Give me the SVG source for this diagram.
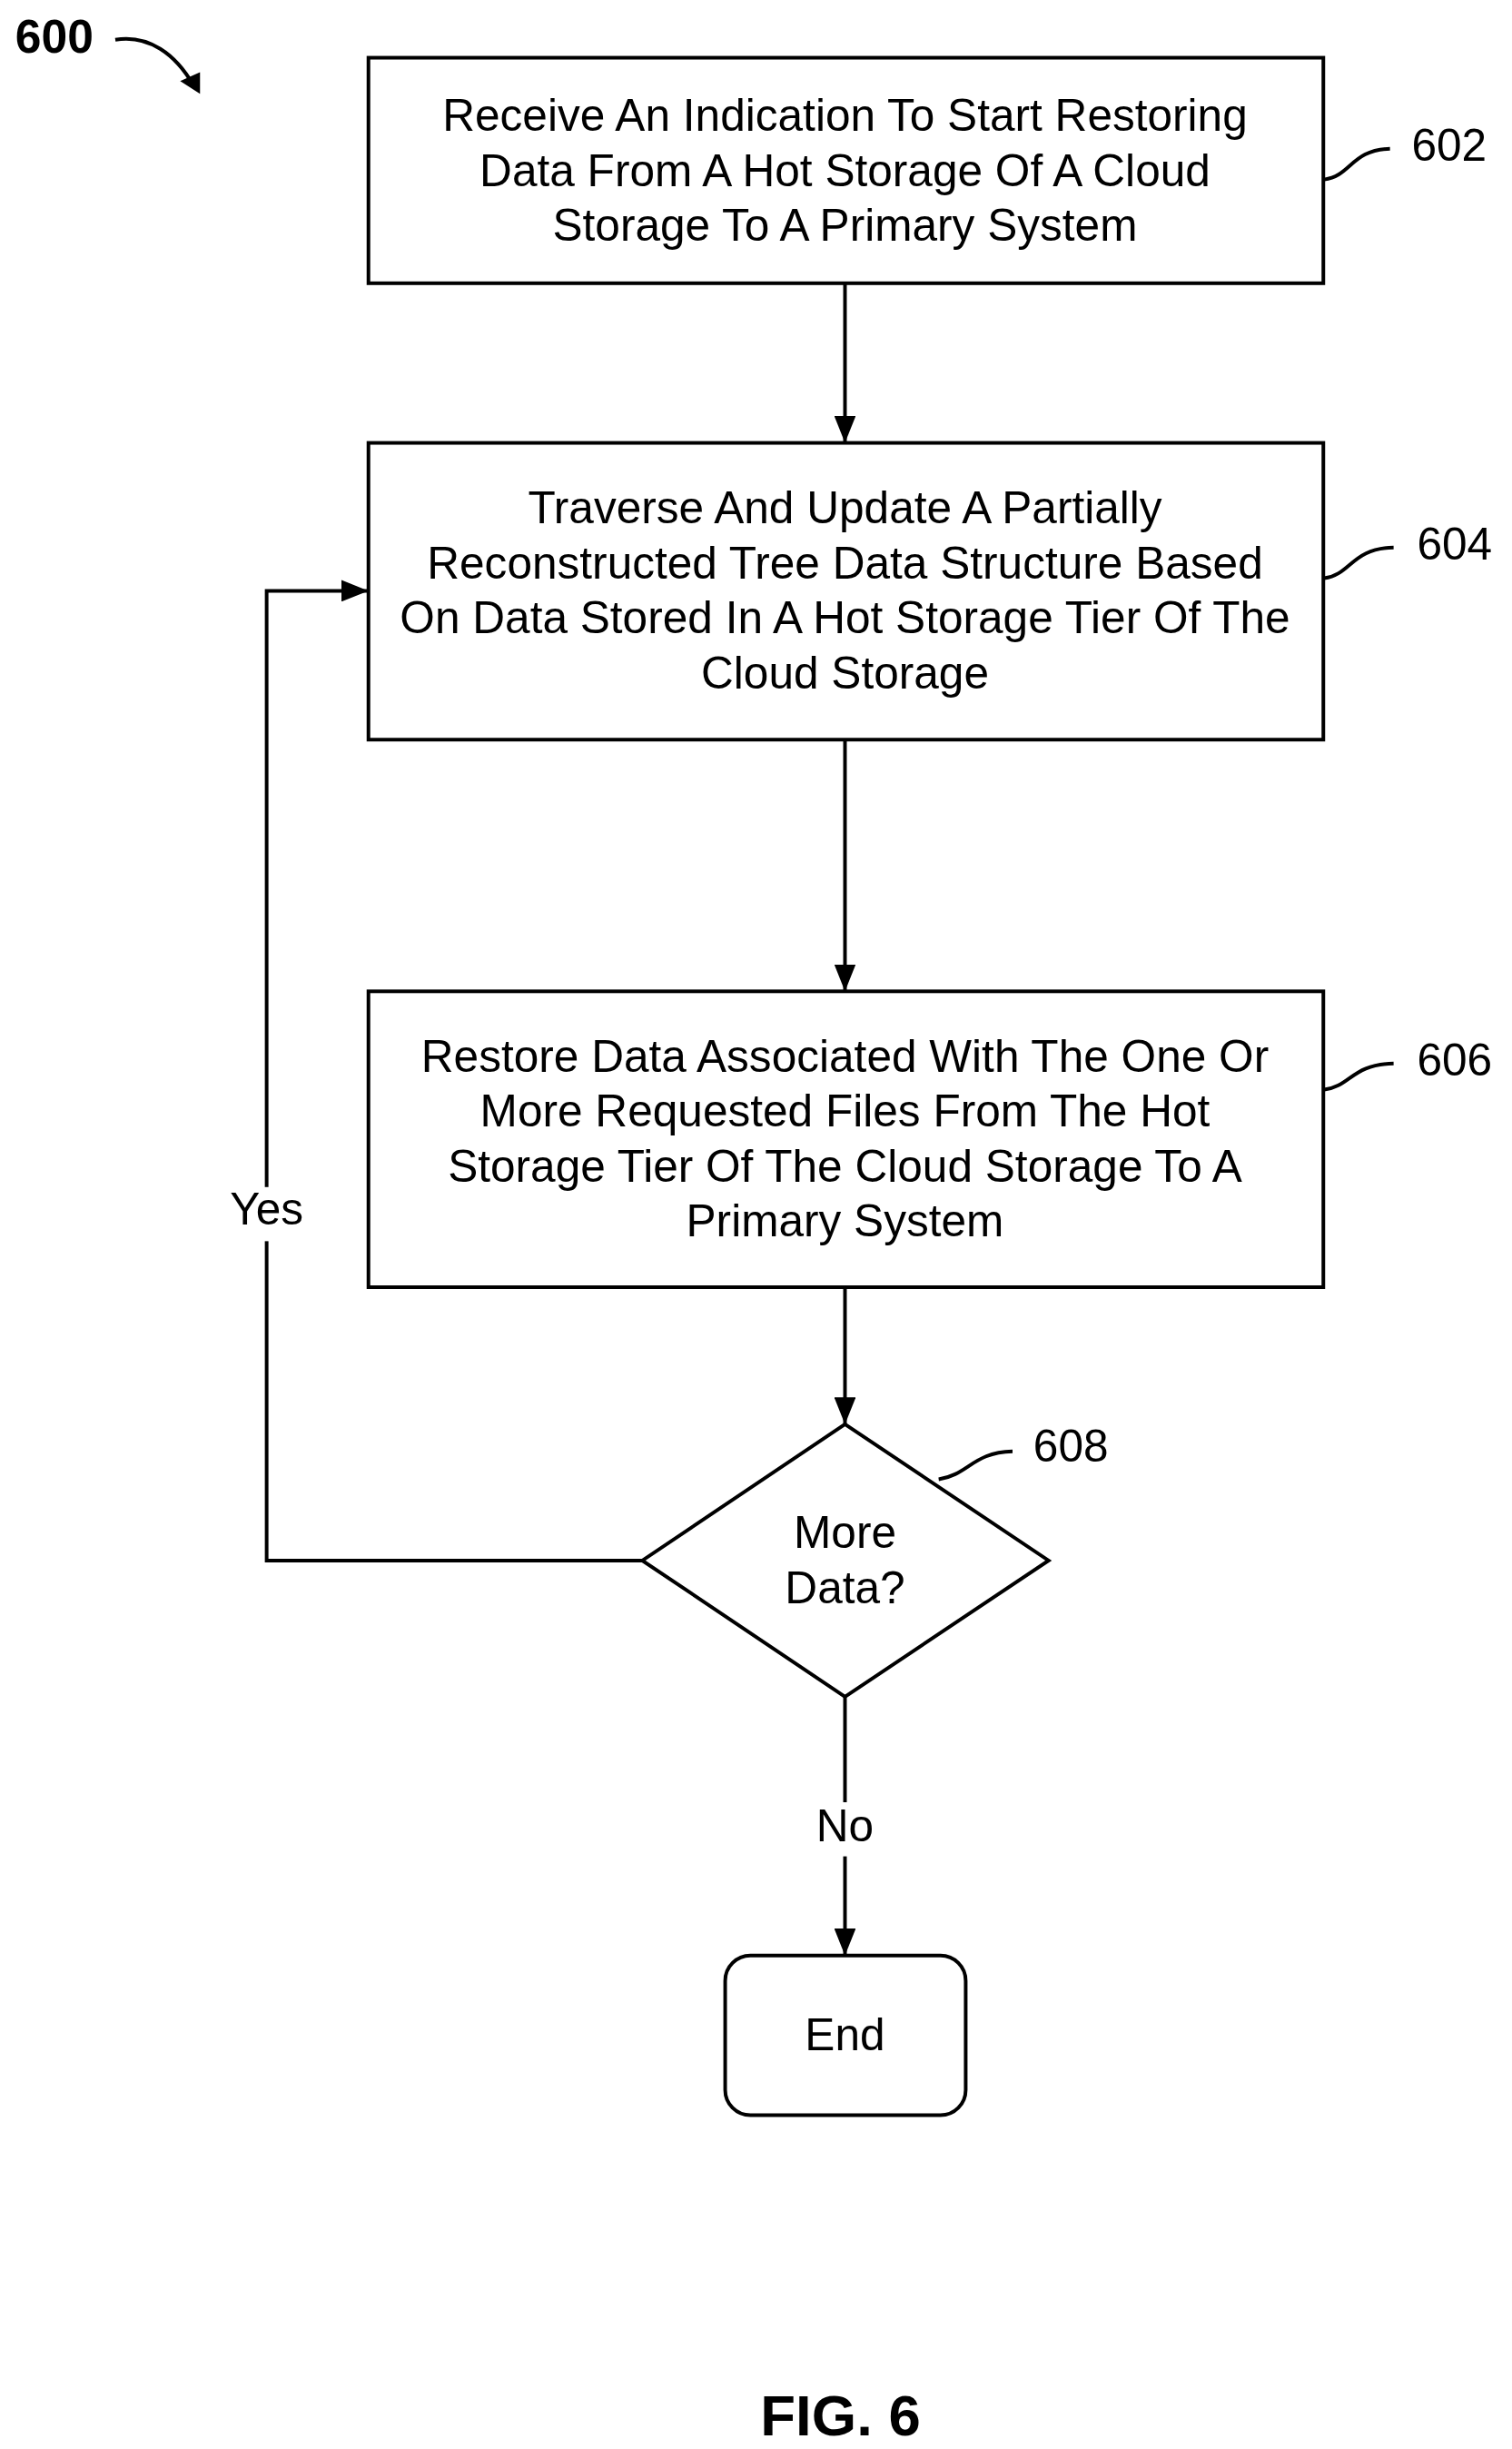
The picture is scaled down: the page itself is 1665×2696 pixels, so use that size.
<svg xmlns="http://www.w3.org/2000/svg" width="1665" height="2696" viewBox="0 0 1665 2696">
<style>
text{font-family:"Liberation Sans",Arial,sans-serif;font-size:50px;fill:#000;text-anchor:middle}
.b{fill:#fff;stroke:#000;stroke-width:4}
.c{fill:none;stroke:#000;stroke-width:4}
.r{text-anchor:start}
</style>
<defs>
<marker id="ah" markerWidth="30" markerHeight="24" refX="30" refY="12" orient="auto" markerUnits="userSpaceOnUse"><path d="M0,0 L30,12 L0,24 z" fill="#000"/></marker></defs>
<g transform="scale(0.992,0.993)">
<g id="connectors">
<line class="c" x1="938" y1="314" x2="938" y2="491" marker-end="url(#ah)"/>
<line class="c" x1="938" y1="820" x2="938" y2="1099" marker-end="url(#ah)"/>
<line class="c" x1="938" y1="1427" x2="938" y2="1579" marker-end="url(#ah)"/>
<polyline class="c" points="713,1730 296,1730 296,655 409,655" marker-end="url(#ah)"/>
<line class="c" x1="938" y1="1881" x2="938" y2="2168" marker-end="url(#ah)"/>
<rect x="256" y="1316" width="80" height="60" fill="#fff"/>
<text x="296" y="1358">Yes</text>
<rect x="898" y="1998" width="80" height="60" fill="#fff"/>
<text x="938" y="2041">No</text>
</g>
<g id="n600">
<text x="17" y="58" class="r" style="font-weight:bold;font-size:52px">600</text>
<path class="c" d="M128,44 C165,38 195,60 215,95"/>
<path d="M200,90 L222,104 L222,80 z" fill="#000"/>
</g>
<g id="n602">
<rect class="b" x="409" y="64" width="1060" height="250"/>
<text x="938" y="145">Receive An Indication To Start Restoring</text>
<text x="938" y="206">Data From A Hot Storage Of A Cloud</text>
<text x="938" y="267">Storage To A Primary System</text>
<path class="c" d="M1470,199 C1500,195 1500,166 1543,165"/>
<text x="1567" y="178" class="r">602</text>
</g>
<g id="n604">
<rect class="b" x="409" y="491" width="1060" height="329"/>
<text x="938" y="580">Traverse And Update A Partially</text>
<text x="938" y="641">Reconstructed Tree Data Structure Based</text>
<text x="938" y="702">On Data Stored In A Hot Storage Tier Of The</text>
<text x="938" y="763">Cloud Storage</text>
<path class="c" d="M1470,641 C1500,637 1500,608 1547,607"/>
<text x="1573" y="620" class="r">604</text>
</g>
<g id="n606">
<rect class="b" x="409" y="1099" width="1060" height="328"/>
<text x="938" y="1188">Restore Data Associated With The One Or</text>
<text x="938" y="1249">More Requested Files From The Hot</text>
<text x="938" y="1310">Storage Tier Of The Cloud Storage To A</text>
<text x="938" y="1371">Primary System</text>
<path class="c" d="M1470,1208 C1500,1204 1500,1180 1547,1179"/>
<text x="1573" y="1192" class="r">606</text>
</g>
<g id="n608">
<polygon class="b" points="938,1579 1164,1730 938,1881 713,1730"/>
<text x="938" y="1716">More</text>
<text x="938" y="1777">Data?</text>
<path class="c" d="M1042,1640 C1075,1635 1080,1610 1124,1609"/>
<text x="1147" y="1620" class="r">608</text>
</g>
<g id="end">
<rect class="b" x="805" y="2168" width="267" height="177" rx="28"/>
<text x="938" y="2273">End</text>
</g>
<text x="933" y="2700" style="font-weight:bold;font-size:64px">FIG. 6</text>
</g>
</svg>
